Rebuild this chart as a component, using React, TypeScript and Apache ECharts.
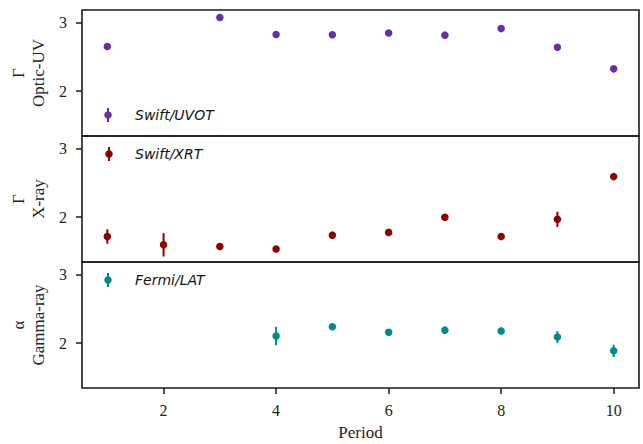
import React, { useEffect, useRef } from "react";
import * as echarts from "echarts";

const periods = [1, 2, 3, 4, 5, 6, 7, 8, 9, 10];
const uvotValues = [2.65, null, 3.07, 2.825, 2.82, 2.845, 2.815, 2.91, 2.64, 2.325];
const uvotErrors = [0.02, null, 0.02, 0.02, 0.02, 0.02, 0.025, 0.02, 0.02, 0.04];
const xrtValues = [1.72, 1.6, 1.575, 1.54, 1.74, 1.78, 2.0, 1.72, 1.97, 2.59];
const xrtErrors = [0.105, 0.17, 0.02, 0.02, 0.02, 0.03, 0.02, 0.02, 0.11, 0.045];
const latValues = [null, null, null, 2.105, 2.24, 2.158, 2.19, 2.177, 2.09, 1.89];
const latErrors = [null, null, null, 0.134, 0.02, 0.02, 0.02, 0.05, 0.086, 0.09];
const xTicks = [2, 4, 6, 8, 10];
const yTicks = [2, 3];
const panelNames = ["Γ\nOptic-UV", "Γ\nX-ray", "α\nGamma-ray"];
const legendNames = ["Swift/UVOT", "Swift/XRT", "Fermi/LAT"];
const colors = ["#6a2da8", "#8b0000", "#008b8b"];

const SERIF = "'Liberation Serif', 'DejaVu Serif', serif";

export default function App() {
  const ref = useRef<HTMLDivElement>(null);
  useEffect(() => {
    if (!ref.current) return;
    const chart = echarts.init(ref.current, null, { renderer: "svg" });
    const tops = [10, 136, 262];
    const H = 126;
    const values = [uvotValues, xrtValues, latValues];
    const errors = [uvotErrors, xrtErrors, latErrors];
    const grids = tops.map((t) => ({
      left: 82,
      top: t,
      width: 557,
      height: H,
      show: true,
      borderColor: "#1a1a1a",
      borderWidth: 1.6,
      backgroundColor: "transparent",
    }));
    const xAxes = tops.map((_, i) => ({
      type: "value",
      gridIndex: i,
      min: 0.55,
      max: 10.45,
      axisLine: { show: false },
      splitLine: { show: false },
      axisTick: {
        show: i === 2,
        length: 6,
        lineStyle: { color: "#1a1a1a", width: 1.5 },
        customValues: xTicks,
      },
      axisLabel: {
        show: i === 2,
        customValues: xTicks,
        margin: 14,
        fontFamily: SERIF,
        fontSize: 16,
        color: "#222",
      },
      name: i === 2 ? "Period" : "",
      nameLocation: "middle",
      nameGap: 36,
      nameTextStyle: { fontFamily: SERIF, fontSize: 17, color: "#222" },
    }));
    const yAxes = tops.map((_, i) => ({
      type: "value",
      gridIndex: i,
      min: 1.35,
      max: 3.18,
      axisLine: { show: false },
      splitLine: { show: false },
      axisTick: {
        show: true,
        length: 6,
        lineStyle: { color: "#1a1a1a", width: 1.5 },
        customValues: yTicks,
      },
      axisLabel: {
        customValues: yTicks,
        margin: 15,
        fontFamily: SERIF,
        fontSize: 16,
        color: "#222",
      },
      name: panelNames[i],
      nameLocation: "middle",
      nameRotate: 90,
      nameGap: 33,
      nameTextStyle: {
        fontFamily: SERIF,
        fontSize: 17,
        color: "#222",
        lineHeight: 20,
        align: "center",
      },
    }));
    const series: any[] = [];
    values.forEach((vals, i) => {
      const pts = periods
        .map((p, k) => (vals[k] == null ? null : [p, vals[k], errors[i][k]]))
        .filter((d) => d != null);
      series.push({
        type: "custom",
        xAxisIndex: i,
        yAxisIndex: i,
        data: pts,
        renderItem: (_p: any, api: any) => {
          const x = api.value(0);
          const y = api.value(1);
          const e = api.value(2);
          const a = api.coord([x, y - e]);
          const b = api.coord([x, y + e]);
          return {
            type: "line",
            shape: { x1: a[0], y1: a[1], x2: b[0], y2: b[1] },
            style: { stroke: colors[i], lineWidth: 2 },
          };
        },
        z: 2,
      });
      series.push({
        type: "scatter",
        xAxisIndex: i,
        yAxisIndex: i,
        data: pts.map((d: any) => [d[0], d[1]]),
        symbolSize: 7.5,
        itemStyle: { color: colors[i], opacity: 1 },
        z: 3,
      });
    });
    const legendPos = [
      [108, 115],
      [109, 154],
      [108, 280],
    ];
    const graphic: any[] = [];
    legendPos.forEach(([x, y], i) => {
      graphic.push({
        type: "line",
        shape: { x1: x, y1: y - 7, x2: x, y2: y + 7 },
        style: { stroke: colors[i], lineWidth: 2 },
        z: 10,
      });
      graphic.push({
        type: "circle",
        shape: { cx: x, cy: y, r: 3.75 },
        style: { fill: colors[i] },
        z: 10,
      });
      graphic.push({
        type: "text",
        x: 135,
        y: y,
        style: {
          text: legendNames[i],
          fontFamily: "'DejaVu Sans', sans-serif",
          fontStyle: "italic",
          fontSize: 14,
          fill: "#111",
          verticalAlign: "middle",
          align: "left",
        },
        z: 10,
      });
    });
    chart.setOption({
      animation: false,
      grid: grids,
      xAxis: xAxes,
      yAxis: yAxes,
      series,
      graphic,
    });
    return () => chart.dispose();
  }, []);
  return (
    <div
      ref={ref}
      style={{ position: "fixed", left: 0, top: 0, width: 643, height: 444, background: "#fff" }}
    />
  );
}
